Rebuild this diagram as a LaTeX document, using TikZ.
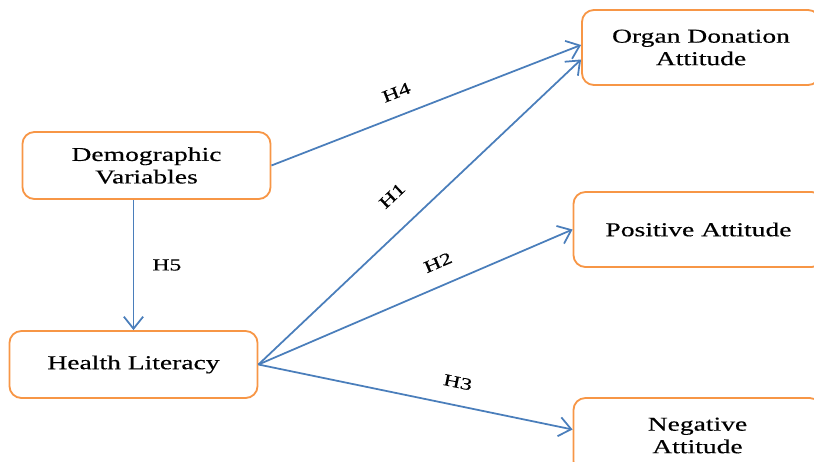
\documentclass[tikz,border=0pt]{standalone}
\usepackage{fontspec}
\setmainfont[FakeStretch=1.4,FakeBold=0.4]{Liberation Serif}
\usepackage{tikz}
\usetikzlibrary{calc,positioning}
\usetikzlibrary{arrows.meta}
\tikzset{>={Straight Barb[width=4.8mm,length=3mm]}}
\definecolor{boxorange}{RGB}{247,150,70}
\definecolor{linkblue}{RGB}{74,126,187}

\begin{document}
\begin{tikzpicture}[x=0.025cm, y=-0.025cm]
          \tikzstyle{vnode} = [draw=boxorange, line width=1.3pt, rectangle, rounded corners = 8.5pt, minimum width=6.2cm, minimum height=1.675cm, inner sep = 2pt, align=center, font=\fontsize{14}{16}\selectfont]
          \tikzstyle{hlabel} = [sloped, inner sep = 0pt, font=\fontsize{12}{14}\selectfont]
          \tikzstyle{link} = [->, draw=linkblue, line width=1.25pt]

          \clip (0,0) rectangle (814,461);
          \node[vnode] (dv) at (146.5,165.5) {Demographic\\Variables};
          \node[vnode] (hl) at (133.5,364.5) {Health Literacy};
          \node[vnode, minimum width=5.95cm, minimum height=1.875cm] (oda) at (701,47.5) {Organ Donation\\Attitude};
          \node[vnode, minimum width=6.25cm, minimum height=1.875cm] (pa) at (698.5,229.5) {Positive Attitude};
          \node[vnode, minimum height=1.875cm] (na) at (697.5,435.5) {Negative\\Attitude};
          \draw[link] (dv.east) -- node[hlabel, pos=0.43, above=0.41cm] (h4) {H4} ($(oda.west)+(0,-2.5)$);
          \draw[link] (hl.east) -- node[hlabel, pos=0.48, above=0.61cm] (h1) {H1} ($(oda.west)+(0,12)$);
          \draw[link] (hl.east) -- node[hlabel, pos=0.6, above=0.41cm] (h2) {H2} (pa.west);
          \draw[link] (hl.east) -- node[hlabel, pos=0.62, above=0.41cm] (h3) {H3} ($(na.west)+(0,-6)$);
          \draw[link] (hl.north |- dv.south) -- node[inner sep = 0pt, right=0.45cm, font=\fontsize{12}{14}\selectfont] (h5) {H5} (hl.north);
        \end{tikzpicture}
\end{document}
